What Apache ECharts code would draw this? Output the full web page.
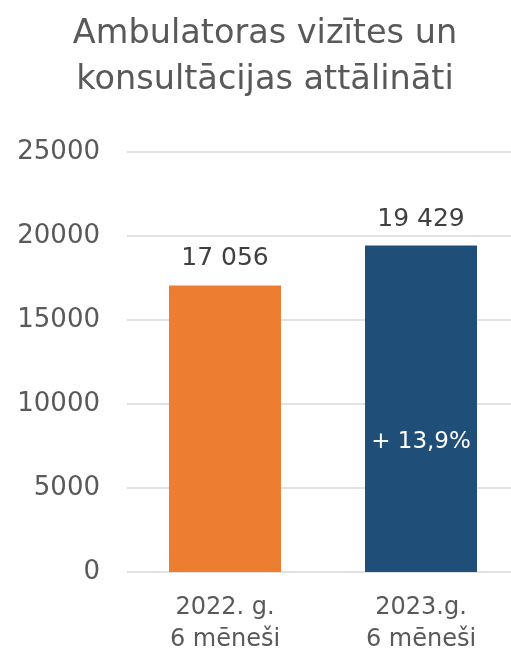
<!DOCTYPE html>
<html>
<head>
<meta charset="utf-8">
<script src="https://cdn.jsdelivr.net/npm/echarts@6/dist/echarts.min.js"></script>
<style>
html,body{margin:0;padding:0;background:#fff;overflow:hidden;width:511px;height:656px;}
#c{width:520px;height:656px;}
</style>
</head>
<body>
<div id="c"></div>
<script>
const titleText = 'Ambulatoras vizītes un\nkonsultācijas attālināti';
const categories = ['2022. g.\n6 mēneši', '2023.g.\n6 mēneši'];
const values = [17056, 19429];
const valueLabels = ['17 056', '19 429'];
const barColors = ['#ED7D31', '#1F4E79'];
const changeLabel = '+ 13,9%';
const changeAt = [1, 7750];
const yTicks = [0, 5000, 10000, 15000, 20000, 25000];

const FONT = '"DejaVu Sans", "Liberation Sans", sans-serif';
const chart = echarts.init(document.getElementById('c'), null, {renderer: 'canvas'});
chart.setOption({
  animation: false,
  backgroundColor: '#ffffff',
  title: {
    text: titleText,
    left: 260, textAlign: 'center',
    top: 6,
    textStyle: {fontFamily: FONT, fontSize: 33.5, fontWeight: 'normal', color: '#595959', lineHeight: 46}
  },
  grid: {left: 127, right: 1, top: 152, bottom: 81, containLabel: false},
  xAxis: {
    type: 'category',
    data: categories,
    axisLine: {show: false},
    axisTick: {show: false},
    axisLabel: {fontFamily: FONT, fontSize: 24, color: '#595959', lineHeight: 32, margin: 20}
  },
  yAxis: {
    type: 'value',
    min: yTicks[0], max: yTicks[yTicks.length - 1], interval: 5000,
    axisLine: {show: false},
    axisTick: {show: false},
    splitLine: {lineStyle: {color: '#d9d9d9', width: 1.5}},
    axisLabel: {fontFamily: FONT, fontSize: 26, color: '#595959', margin: 27, formatter: v => String(v)}
  },
  series: [{
    type: 'bar',
    barWidth: 112,
    data: values.map((v, i) => ({value: v, itemStyle: {color: barColors[i]}})),
    label: {
      show: true, position: 'top', distance: 14,
      fontFamily: FONT, fontSize: 25, color: '#404040',
      formatter: p => valueLabels[p.dataIndex]
    },
    markPoint: {
      symbol: 'rect', symbolSize: 1,
      itemStyle: {color: 'rgba(0,0,0,0)'},
      data: [{coord: [changeAt[0], changeAt[1]], value: changeLabel,
        label: {show: true, position: 'inside', formatter: changeLabel, fontFamily: FONT, fontSize: 23, color: '#ffffff'}}]
    }
  }]
});
</script>
</body>
</html>
